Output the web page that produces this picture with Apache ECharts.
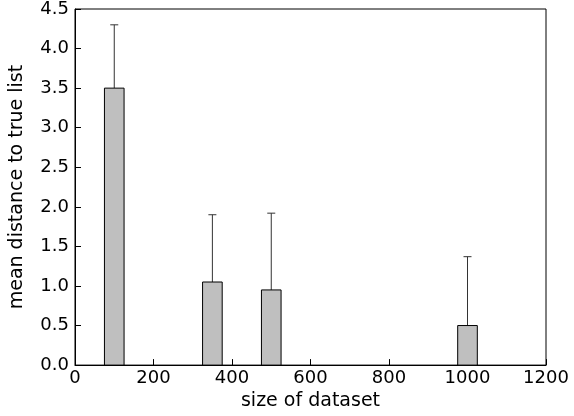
<!DOCTYPE html>
<html><head><meta charset="utf-8">
<script src="https://cdn.jsdelivr.net/npm/echarts@6/dist/echarts.min.js"></script>
<style>html,body{margin:0;padding:0;background:#fff}#c{width:574px;height:416px}</style>
</head><body><div id="c"></div>
<script>
var sizes = [100, 350, 500, 1000];
var means = [3.5, 1.05, 0.95, 0.5];
var errTops = [4.3, 1.9, 1.92, 1.37];
var barWidth = 50;

var data = sizes.map(function (s, i) { return [s, means[i], errTops[i]]; });

var chart = echarts.init(document.getElementById('c'));
var font = 'DejaVu Sans';
chart.setOption({
    animation: false,
    grid: {left: 67, right: 28, top: 8, bottom: 49, show: true, borderColor: '#000', borderWidth: 1},
    xAxis: {
        type: 'value', min: 0, max: 1200, interval: 200,
        name: 'size of dataset', nameLocation: 'middle', nameGap: 25,
        nameTextStyle: {fontFamily: font, fontSize: 19, color: '#000'},
        axisLine: {lineStyle: {color: '#000'}},
        axisTick: {inside: true, length: 6, lineStyle: {color: '#000'}},
        axisLabel: {fontFamily: font, fontSize: 18, color: '#000', margin: 4,
            formatter: function (v) { return String(v); }},
        splitLine: {show: false}
    },
    yAxis: {
        type: 'value', min: 0, max: 4.5, interval: 0.5,
        name: 'mean distance to true list', nameLocation: 'middle', nameGap: 48,
        nameTextStyle: {fontFamily: font, fontSize: 19, color: '#000'},
        axisLine: {lineStyle: {color: '#000'}},
        axisTick: {inside: true, length: 6, lineStyle: {color: '#000'}},
        axisLabel: {fontFamily: font, fontSize: 18, color: '#000', margin: 6,
            formatter: function (v) { return v.toFixed(1); }},
        splitLine: {show: false}
    },
    series: [{
        type: 'custom',
        data: data,
        renderItem: function (params, api) {
            var x = api.value(0), m = api.value(1), t = api.value(2);
            var p0 = api.coord([x - barWidth / 2, 0]);
            var p1 = api.coord([x + barWidth / 2, m]);
            var top = api.coord([x, m]);
            var et = api.coord([x, t]);
            return {
                type: 'group',
                children: [
                    {type: 'line', shape: {x1: top[0], y1: top[1], x2: et[0], y2: et[1]},
                     style: {stroke: '#333', lineWidth: 1}},
                    {type: 'line', shape: {x1: et[0] - 4, y1: et[1], x2: et[0] + 4, y2: et[1]},
                     style: {stroke: '#333', lineWidth: 1}},
                    {type: 'rect', shape: {x: p0[0], y: p1[1], width: p1[0] - p0[0], height: p0[1] - p1[1]},
                     style: {fill: '#bfbfbf', stroke: '#000', lineWidth: 1}}
                ]
            };
        }
    }]
});
</script></body></html>
